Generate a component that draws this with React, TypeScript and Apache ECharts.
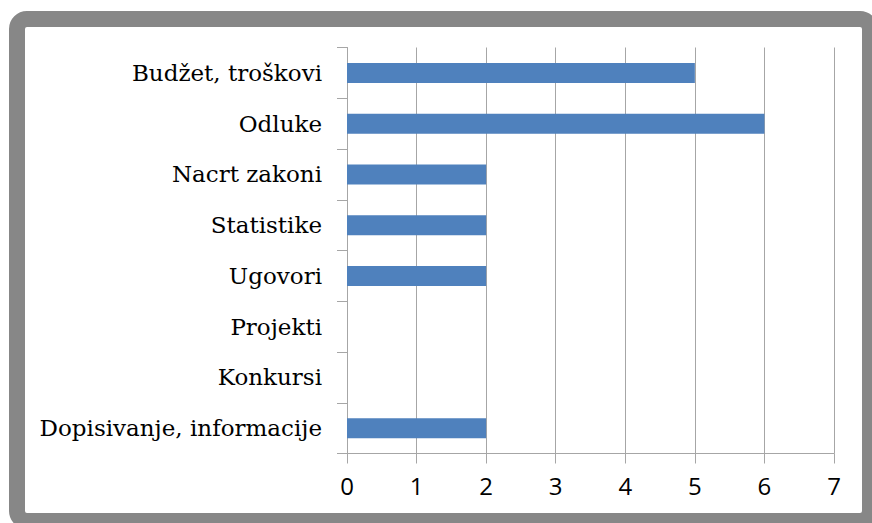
import React, { useEffect, useRef } from "react";
import * as echarts from "echarts";

const categories = [
  "Budžet, troškovi",
  "Odluke",
  "Nacrt zakoni",
  "Statistike",
  "Ugovori",
  "Projekti",
  "Konkursi",
  "Dopisivanje, informacije",
];
const values = [5, 6, 2, 2, 2, 0, 0, 2];
const xMin = 0;
const xMax = 7;
const xStep = 1;

export default function App() {
  const ref = useRef<HTMLDivElement>(null);
  useEffect(() => {
    if (!ref.current) return;
    const chart = echarts.init(ref.current, null, { renderer: "svg" });
    const lineColor = "#a6a6a6";
    chart.setOption({
      animation: false,
      backgroundColor: "#ffffff",
      graphic: [
        {
          type: "rect",
          shape: { x: 17, y: 19, width: 853, height: 502, r: 10 },
          style: { fill: "none", stroke: "#878787", lineWidth: 16 },
          silent: true,
          z: 100,
        },
      ],
      grid: { left: 347, right: 38, top: 47.5, bottom: 69.5 },
      xAxis: {
        type: "value",
        min: xMin,
        max: xMax,
        interval: xStep,
        axisLine: { show: true, lineStyle: { color: lineColor, width: 1 } },
        axisTick: { show: true, length: 10, lineStyle: { color: lineColor } },
        splitLine: { show: true, lineStyle: { color: lineColor, width: 1 } },
        axisLabel: {
          color: "#000",
          fontFamily: "Open Sans",
          fontSize: 24,
          margin: 20,
        },
      },
      yAxis: {
        type: "category",
        inverse: true,
        data: categories,
        axisLine: { show: true, lineStyle: { color: lineColor, width: 1 } },
        axisTick: { show: true, length: 10, lineStyle: { color: lineColor } },
        axisLabel: {
          color: "#000",
          fontFamily: "DejaVu Serif",
          fontSize: 23,
          margin: 25,
        },
      },
      series: [
        {
          type: "bar",
          data: values,
          barWidth: 20,
          itemStyle: { color: "#4f81bd" },
        },
      ],
    });
    return () => chart.dispose();
  }, []);
  return (
    <div
      ref={ref}
      style={{ position: "fixed", left: 0, top: 0, width: 872, height: 523 }}
    />
  );
}
